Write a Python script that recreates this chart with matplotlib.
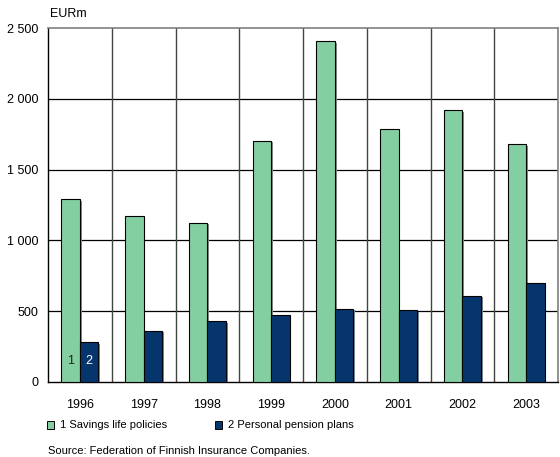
import matplotlib
matplotlib.use('Agg')
import matplotlib.pyplot as plt
import matplotlib.patheffects as pe
from matplotlib.patches import Rectangle
import numpy as np

years = ['1996', '1997', '1998', '1999', '2000', '2001', '2002', '2003']
savings_life = [1290, 1175, 1125, 1705, 2405, 1785, 1920, 1680]
pension_plans = [280, 360, 430, 475, 515, 505, 610, 700]
series_names = ['1 Savings life policies', '2 Personal pension plans']

GREEN = '#84CFA2'
BLUE = '#06356E'

plt.rcParams['font.family'] = ['Liberation Sans', 'DejaVu Sans']
plt.rcParams['font.size'] = 9

fig = plt.figure(figsize=(5.6, 4.57), dpi=100)
ax = fig.add_axes([48 / 560, (457 - 382) / 457, 510 / 560, 354 / 457])

x = np.arange(len(years))
w = 0.29
shadow = [pe.SimplePatchShadow(offset=(1.2, -1.0), shadow_rgbFace='#888888', alpha=1.0), pe.Normal()]
b1 = ax.bar(x - w / 2, savings_life, w, color=GREEN, edgecolor='black', linewidth=0.8,
            zorder=3, path_effects=shadow)
b2 = ax.bar(x + w / 2, pension_plans, w, color=BLUE, edgecolor='black', linewidth=0.8,
            zorder=3, path_effects=shadow)

# series numbers inside the first pair of bars
ax.text(x[0] - w / 2, 150, '1', ha='center', va='center', color='#222222', zorder=4)
ax.text(x[0] + w / 2, 150, '2', ha='center', va='center', color='white', zorder=4)

ax.set_xlim(-0.5, len(years) - 0.5)
ax.set_ylim(0, 2500)
ax.set_yticks(np.arange(0, 2501, 500))
ax.set_yticklabels([f'{v:,}'.replace(',', ' ') for v in range(0, 2501, 500)])
ax.set_xticks(x)
ax.set_xticklabels(years)
ax.tick_params(length=0, pad=7)
ax.tick_params(axis='x', pad=12)

# grid: horizontal lines at each tick, vertical lines between categories
for v in range(500, 2500, 500):
    ax.axhline(v, color='black', linewidth=0.9, zorder=1)
for b in np.arange(0.5, len(years) - 0.5, 1):
    ax.axvline(b, color='#444444', linewidth=1.0, zorder=1)
for side in ['top', 'right']:
    ax.spines[side].set_color('#808080')
    ax.spines[side].set_linewidth(1.2)
for side in ['left', 'bottom']:
    ax.spines[side].set_color('black')
    ax.spines[side].set_linewidth(1.0)

fig.text(50 / 560, 1 - 14 / 457, 'EURm', ha='left', va='center')

# legend drawn by hand under the axis labels
for xs, col, name in [(47, GREEN, series_names[0]), (215, BLUE, series_names[1])]:
    fig.patches.append(Rectangle((xs / 560, 1 - 429 / 457), 7 / 560, 8 / 457,
                                 transform=fig.transFigure, facecolor=col,
                                 edgecolor='black', linewidth=0.7))
    fig.text((xs + 13) / 560, 1 - 425 / 457, name, ha='left', va='center', fontsize=8)

fig.text(48 / 560, 1 - 451 / 457, 'Source: Federation of Finnish Insurance Companies.',
         ha='left', va='center', fontsize=8)

plt.savefig('out.png', dpi=100)
